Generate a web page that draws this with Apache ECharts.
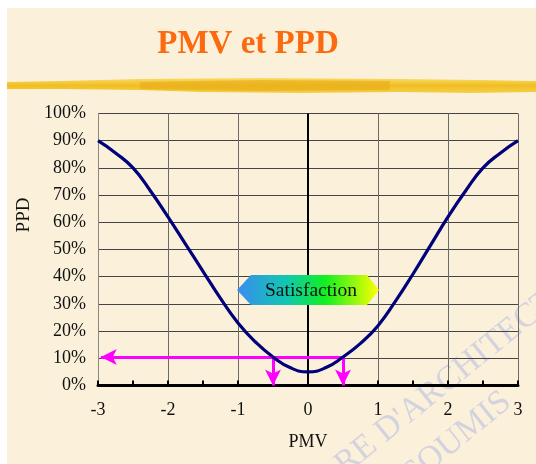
<!DOCTYPE html>
<html>
<head>
<meta charset="utf-8">
<script src="https://cdn.jsdelivr.net/npm/echarts@6/dist/echarts.min.js"></script>
<style>
html,body{margin:0;padding:0;background:#ffffff;}
#chart{width:536px;height:464px;}
</style>
</head>
<body>
<div id="chart"></div>
<script>
// Data
var pmv = [-3, -2.75, -2.5, -2.25, -2, -1.75, -1.5, -1.25, -1, -0.75, -0.5, -0.25, 0, 0.25, 0.5, 0.75, 1, 1.25, 1.5, 1.75, 2, 2.25, 2.5, 2.75, 3];
var ppd = [90, 85.5, 80, 71.5, 62, 52, 42, 32, 23, 16, 10.5, 6.5, 5, 6.5, 10.5, 15.5, 22, 31, 41, 51.5, 62, 71.5, 80, 85.5, 90];
var xTicks = [-3, -2, -1, 0, 1, 2, 3];
var yTicks = [0, 10, 20, 30, 40, 50, 60, 70, 80, 90, 100];
var arrowLevel = 10.5;      // PPD level of the magenta arrows
var arrowPmv = [-0.5, 0.5]; // PMV positions of the downward arrows
var arrowLeftEnd = -2.96;   // end of the horizontal arrow

var serif = '"Liberation Serif","Times New Roman",serif';
var chart = echarts.init(document.getElementById('chart'), null, {renderer: 'canvas'});

var lineData = pmv.map(function (x, i) { return [x, ppd[i]]; });

var option = {
  backgroundColor: '#ffffff',
  animation: false,
  grid: {left: 98, right: 18, top: 113.5, bottom: 78.5},
  xAxis: {
    type: 'value', min: xTicks[0], max: xTicks[xTicks.length - 1], interval: 1,
    axisLine: {show: true, onZero: false, lineStyle: {color: '#000', width: 3}},
    axisTick: {show: true, inside: true, length: 5, lineStyle: {color: '#000', width: 2}},
    minorTick: {show: true, splitNumber: 2, length: 5, lineStyle: {color: '#000', width: 2}},
    axisLabel: {color: '#111', fontFamily: serif, fontSize: 18, margin: 16,
      formatter: function (v) { return v < 0 ? '-' + Math.abs(v) : String(v); }},
    splitLine: {show: true, lineStyle: {color: '#6a6a66', width: 1}},
    name: 'PMV', nameLocation: 'middle', nameGap: 48,
    nameTextStyle: {color: '#111', fontFamily: serif, fontSize: 18}
  },
  yAxis: {
    type: 'value', min: yTicks[0], max: yTicks[yTicks.length - 1], interval: 10,
    axisLine: {show: true, onZero: false, lineStyle: {color: '#8a8a84', width: 1}},
    axisTick: {show: false},
    axisLabel: {color: '#111', fontFamily: serif, fontSize: 18, margin: 12,
      formatter: function (v) { return v + '%'; }},
    splitLine: {show: true, lineStyle: {color: '#444', width: 1}}
  },
  series: [
    {
      type: 'line', data: lineData, smooth: 0.5, showSymbol: false, z: 5,
      lineStyle: {color: '#00007a', width: 3.2},
      markLine: {
        silent: true, symbol: ['none', 'none'], label: {show: false},
        lineStyle: {color: '#000', width: 2, type: 'solid'},
        data: [{xAxis: 0}]
      }
    },
    {
      type: 'line', data: [], z: 6,
      markLine: {
        silent: true, symbol: ['none', 'arrow'], symbolSize: [12, 16], label: {show: false},
        lineStyle: {color: '#ff00ff', width: 3, type: 'solid'},
        data: [
          [{coord: [arrowPmv[1], arrowLevel]}, {coord: [arrowLeftEnd, arrowLevel]}],
          [{coord: [arrowPmv[0], arrowLevel]}, {coord: [arrowPmv[0], 0]}],
          [{coord: [arrowPmv[1], arrowLevel]}, {coord: [arrowPmv[1], 0]}]
        ]
      }
    }
  ],
  graphic: [
    {type: 'rect', z: -10, silent: true, shape: {x: 7, y: 8, width: 529, height: 456},
      style: {fill: '#fbf1db'}},
    // watermark
    {type: 'text', z: -5, silent: true, x: 350, y: 482, rotation: 0.68,
      style: {text: "RE D'ARCHITECTURE", font: '34px ' + serif, fill: 'rgba(150,160,230,0.38)', textVerticalAlign: 'bottom'}},
    {type: 'text', z: -5, silent: true, x: 418, y: 492, rotation: 0.68,
      style: {text: 'SOUMIS', font: '34px ' + serif, fill: 'rgba(150,160,230,0.38)', textVerticalAlign: 'bottom'}},
    // brush stroke
    {type: 'polygon', z: -4, silent: true,
      shape: {points: [[7,82],[60,81],[140,79],[260,78],[400,79],[480,80],[536,81],[536,92],[470,93],[400,92],[300,93],[200,92],[140,90],[60,89],[7,89]]},
      style: {fill: new echarts.graphic.LinearGradient(0, 0, 0, 1, [
        {offset: 0, color: '#f8dc6a'}, {offset: 0.5, color: '#f1be22'}, {offset: 1, color: '#f4cf4a'}])}},
    {type: 'polygon', z: -3, silent: true,
      shape: {points: [[140,82],[260,80],[390,81],[390,90],[260,91],[140,89]]},
      style: {fill: 'rgba(232,170,20,0.55)'}},
    // title
    {type: 'text', silent: true, x: 248, y: 44,
      style: {text: 'PMV et PPD', font: 'bold 33px ' + serif, fill: '#fb6a0e', textAlign: 'center', textVerticalAlign: 'middle'}},
    // PPD axis name
    {type: 'text', silent: true, x: 24, y: 215, rotation: Math.PI / 2,
      style: {text: 'PPD', font: '19px ' + serif, fill: '#111', textAlign: 'center', textVerticalAlign: 'middle'}},
    // Satisfaction banner
    {type: 'polygon', z: 20, silent: true,
      shape: {points: [[237,290],[251,275],[367,275],[379,290],[367,305],[251,305]]},
      style: {fill: new echarts.graphic.LinearGradient(0, 0, 1, 0, [
        {offset: 0, color: '#3a8cf0'}, {offset: 0.35, color: '#10c8b0'}, {offset: 0.62, color: '#10f020'}, {offset: 1, color: '#ffff00'}])}},
    {type: 'text', z: 21, silent: true, x: 311, y: 291,
      style: {text: 'Satisfaction', font: '19.5px ' + serif, fill: '#111', textAlign: 'center', textVerticalAlign: 'middle'}}
  ]
};
chart.setOption(option);
</script>
</body>
</html>
